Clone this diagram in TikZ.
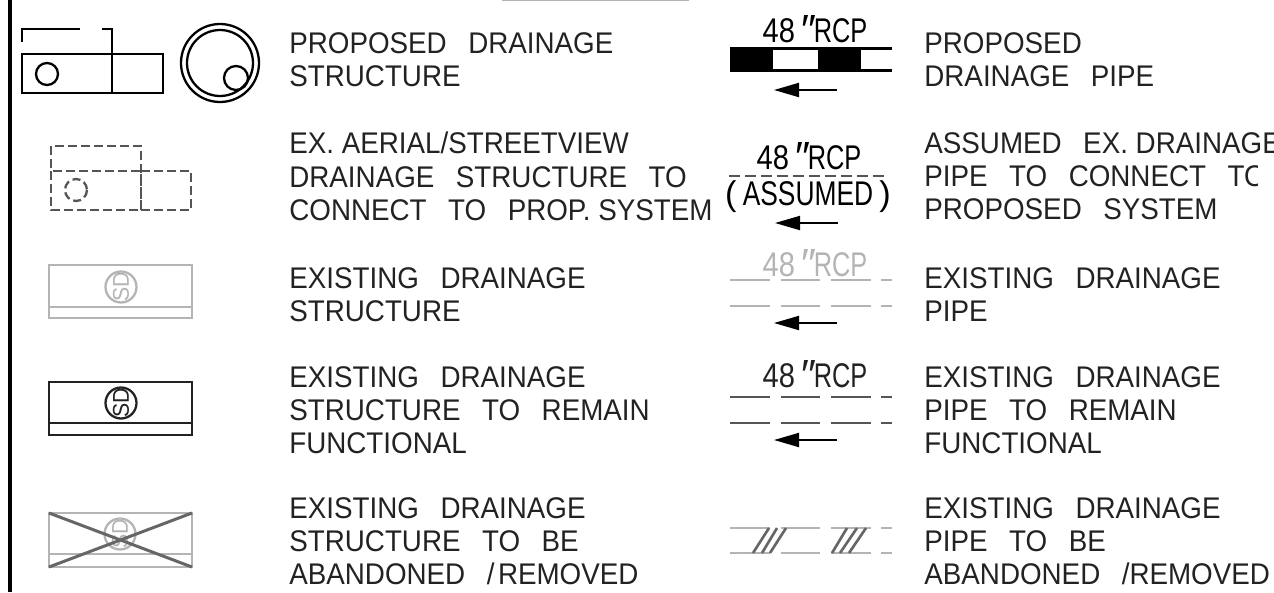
\documentclass[tikz,border=0pt]{standalone}
\usepackage{fontspec}
\setmainfont[FakeStretch=0.93]{Liberation Sans}
\newfontfamily\pipefont{Liberation Sans}
\usepackage{tikz}
\usetikzlibrary{arrows.meta}
\definecolor{inkdark}{HTML}{222222}
\definecolor{dashgray}{HTML}{555555}
\definecolor{lightgray}{HTML}{B4B4B4}
\definecolor{crossgray}{HTML}{666666}
\newcommand{\gap}{\hspace{0.72em}}
\newcommand{\rcplabel}{\scalebox{0.85}[1]{48}\hspace{2.5pt}\raisebox{-1pt}{\fontsize{24}{24}\selectfont\textit{″}}\hspace{-1pt}\scalebox{0.74}[1]{RCP}}
\tikzstyle{legendtext} = [anchor=north west,inner sep=0pt,align=left,text=inkdark,font=\fontsize{17}{19}\selectfont]
\tikzstyle{pipelabel}  = [inner sep=0pt,font=\pipefont\fontsize{19.5}{22}\selectfont]
\tikzstyle{sdlabel}    = [rotate=90,inner sep=0pt,font=\fontsize{13}{13}\selectfont]
\tikzstyle{flowarrow}  = [line width=1.1pt,-{Triangle[length=0.5cm,width=0.28cm]}]
\tikzstyle{thinline}   = [line width=1.3pt]
\tikzstyle{dashbox}    = [line width=1.3pt,dashgray,dash pattern=on 0.18cm off 0.08cm]
\tikzstyle{oldpipe}    = [line width=1.3pt,dash pattern=on 0.8cm off 0.21cm]

\begin{document}
\begin{tikzpicture}[x=0.02cm,y=-0.02cm]
           \useasboundingbox (0,0) rectangle (1274,592);
           \draw[line width=2pt,black] (10,0) -- (10,592);
           \draw[line width=0.8pt,lightgray] (502,0.5) -- (689,0.5);

           % structures
           \draw[thinline] (22,54) rectangle (163,93);
           \draw[thinline] (22,42) -- (22,29) -- (80,29);
           \draw[thinline] (102,29) -- (112,29) -- (112,92);
           \draw[thinline] (47,74) circle [radius=11];
           \draw[thinline] (220,63) circle [radius=39];
           \draw[thinline] (220,63) circle [radius=33];
           \draw[thinline] (236,78) circle [radius=12];

           \draw[dashbox] (51,168) -- (51,146) -- (141,146) -- (141,210);
           \draw[dashbox] (51,171) rectangle (141,210);
           \draw[dashbox] (141,210) -- (191,210) -- (191,171) -- (141,171);
           \draw[dashbox,dash pattern=on 0.16cm off 0.08cm] (76,190) circle [radius=11];

           \draw[thinline,lightgray] (49,265) rectangle (192,318);
           \draw[thinline,lightgray] (49,307) -- (192,307);
           \draw[thinline,lightgray] (121,287) circle [radius=15.5];
           \node[sdlabel,lightgray](sda)at(121,287){SD};

           \draw[thinline,inkdark] (49,382) rectangle (192,435);
           \draw[thinline,inkdark] (49,423) -- (192,423);
           \draw[thinline,inkdark] (121,403) circle [radius=15.5];
           \node[sdlabel,inkdark](sdb)at(121,403){SD};

           \draw[thinline,lightgray] (49,513) rectangle (192,567);
           \draw[thinline,lightgray] (49,554) -- (192,554);
           \draw[thinline,lightgray] (120,534) circle [radius=15.5];
           \node[sdlabel,lightgray](sdc)at(120,534){SD};
           \draw[line width=1.7pt,crossgray] (49,513) -- (192,567);
           \draw[line width=1.7pt,crossgray] (49,567) -- (192,513);

           % pipes
           \node[pipelabel](la)at(815,30){\rcplabel};
           \fill[black] (730,48.5) rectangle (773,70.5);
           \fill[black] (818,48.5) rectangle (861,70.5);
           \draw[thinline] (730,48.5) -- (892,48.5);
           \draw[thinline] (730,70.5) -- (892,70.5);
           \coordinate (aa) at (837,90);
           \coordinate (ab) at (774,90);
           \draw[flowarrow] (aa) -- (ab);

           \node[pipelabel](lb)at(809,157){\rcplabel};
           \draw[thinline,dashgray,dash pattern=on 0.22cm off 0.1cm] (729,176) -- (888,176);
           \node[pipelabel](lc)at(808,197){(\hspace{3.5pt}\scalebox{0.77}[1]{ASSUMED}\hspace{3.5pt})};
           \coordinate (ba) at (838,223);
           \coordinate (bb) at (775,223);
           \draw[flowarrow] (ba) -- (bb);

           \node[pipelabel,lightgray](ld)at(815,264){\rcplabel};
           \draw[oldpipe,lightgray] (730,280) -- (892,280);
           \draw[oldpipe,lightgray] (730,306) -- (892,306);
           \coordinate (ca) at (837,323);
           \coordinate (cb) at (774,323);
           \draw[flowarrow] (ca) -- (cb);

           \node[pipelabel,inkdark](le)at(815,375){\rcplabel};
           \draw[oldpipe,dashgray] (730,397) -- (892,397);
           \draw[oldpipe,dashgray] (730,423) -- (892,423);
           \coordinate (da) at (837,440);
           \coordinate (db) at (774,440);
           \draw[flowarrow] (da) -- (db);

           \draw[oldpipe,lightgray] (730,528) -- (892,528);
           \draw[oldpipe,lightgray] (730,553) -- (892,553);
           \foreach \xa/\xb in {753/769,762/777,770/786,832/847,840/857,849/866}
               \draw[line width=1.5pt,crossgray] (\xa,553) -- (\xb,528);

           % left column
           \node[legendtext](ta)at(289,32){PROPOSED\gap DRAINAGE\\STRUCTURE};
           \node[legendtext](tb)at(289,132){EX. AERIAL/STREETVIEW\\DRAINAGE\gap STRUCTURE\gap TO\\CONNECT\gap TO\gap PROP. SYSTEM};
           \node[legendtext](tc)at(289,267){EXISTING\gap DRAINAGE\\STRUCTURE};
           \node[legendtext](td)at(289,366){EXISTING\gap DRAINAGE\\STRUCTURE\gap TO\gap REMAIN\\FUNCTIONAL};
           \node[legendtext](te)at(289,497){EXISTING\gap DRAINAGE\\STRUCTURE\gap TO\gap BE\\ABANDONED\gap/\hspace{2pt}REMOVED};

           % right column
           \node[legendtext](tf)at(924,32){PROPOSED\\DRAINAGE\gap PIPE};
           \node[legendtext](tg)at(924,132){ASSUMED\gap EX. DRAINAGE\\PIPE\gap TO\gap CONNECT\gap TO\\PROPOSED\gap SYSTEM};
           \node[legendtext](th)at(924,267){EXISTING\gap DRAINAGE\\PIPE};
           \node[legendtext](ti)at(924,366){EXISTING\gap DRAINAGE\\PIPE\gap TO\gap REMAIN\\FUNCTIONAL};
           \node[legendtext](tj)at(924,497){EXISTING\gap DRAINAGE\\PIPE\gap TO\gap BE\\ABANDONED\gap/REMOVED};
           \fill[white] (1258,160) rectangle (1274,192);
       \end{tikzpicture}
\end{document}
